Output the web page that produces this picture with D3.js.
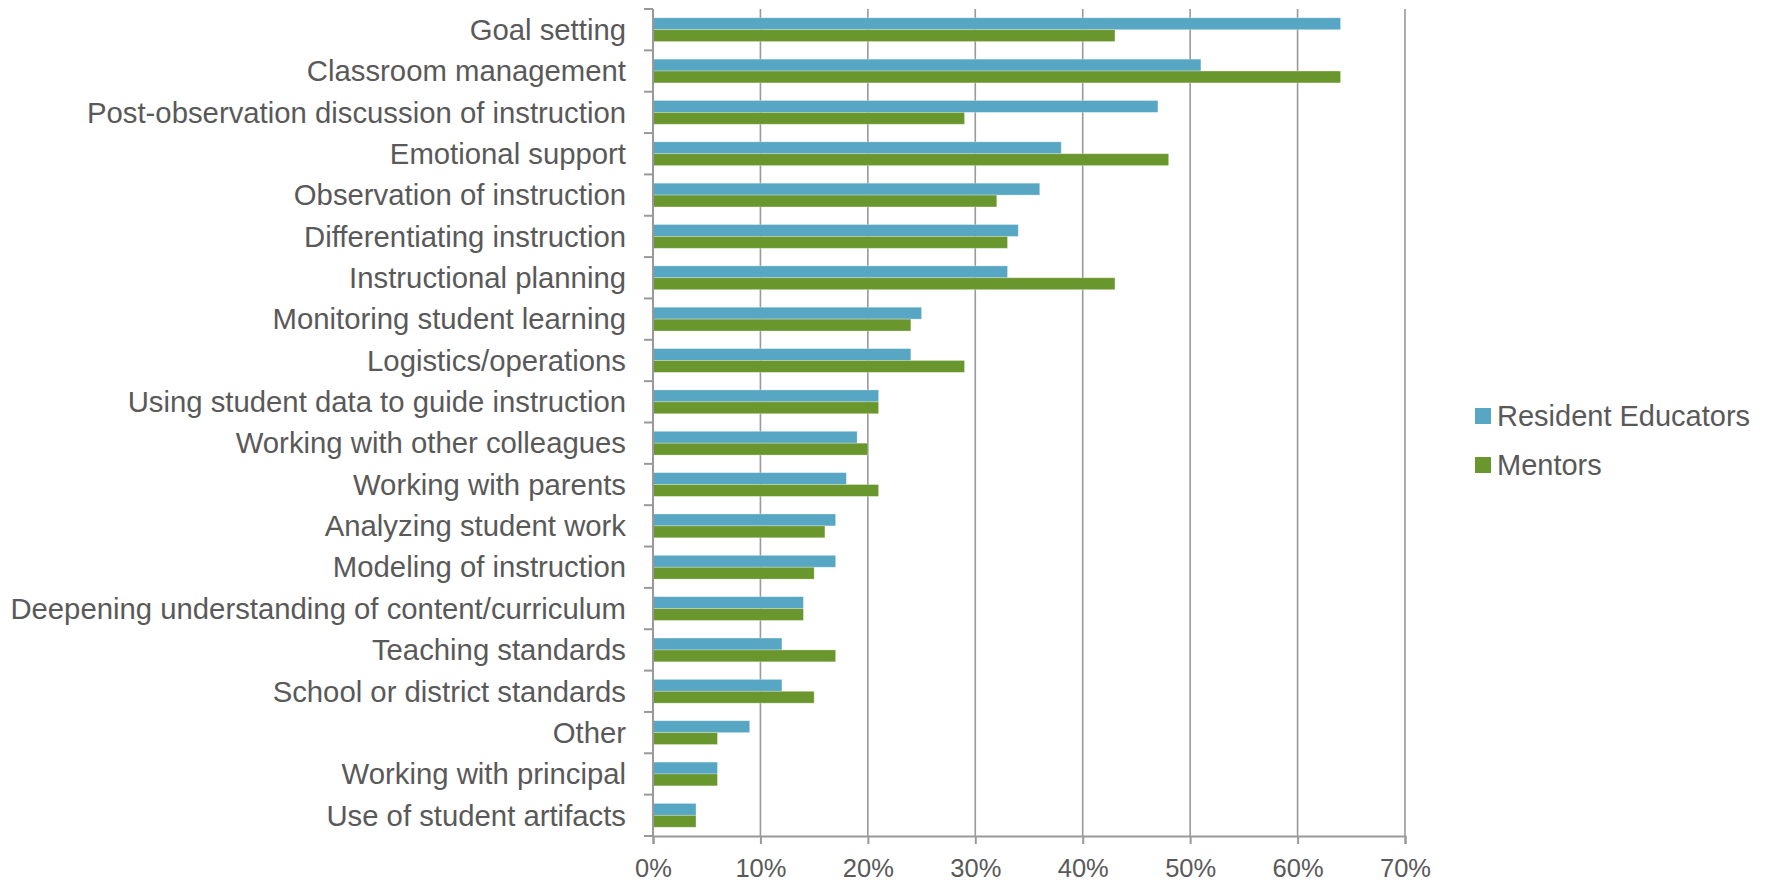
<!DOCTYPE html>
<html>
<head>
<meta charset="utf-8">
<script src="https://cdn.jsdelivr.net/npm/d3@7"></script>
<style>
  html, body { margin: 0; padding: 0; background: #fff; }
  svg { display: block; font-family: "Liberation Sans", Arial, sans-serif; }
</style>
</head>
<body>
<svg id="chart" width="1772" height="882"></svg>
<script>
const categories = [
  "Goal setting",
  "Classroom management",
  "Post-observation discussion of instruction",
  "Emotional support",
  "Observation of instruction",
  "Differentiating instruction",
  "Instructional planning",
  "Monitoring student learning",
  "Logistics/operations",
  "Using student data to guide instruction",
  "Working with other colleagues",
  "Working with parents",
  "Analyzing student work",
  "Modeling of instruction",
  "Deepening understanding of content/curriculum",
  "Teaching standards",
  "School or district standards",
  "Other",
  "Working with principal",
  "Use of student artifacts"
];
const seriesNames = ["Resident Educators", "Mentors"];
const residentEducators = [64, 51, 47, 38, 36, 34, 33, 25, 24, 21, 19, 18, 17, 17, 14, 12, 12, 9, 6, 4];
const mentors = [43, 64, 29, 48, 32, 33, 43, 24, 29, 21, 20, 21, 16, 15, 14, 17, 15, 6, 6, 4];
const xTicks = [0, 10, 20, 30, 40, 50, 60, 70];
const colors = ["#57A6C3", "#6A962E"];

(function () {
const seriesValues = [residentEducators, mentors];
const svg = d3.select("#chart");

const pLeft = 653, pRight = 1405, pTop = 9, pBottom = 836;
const x = d3.scaleLinear().domain([0, 70]).range([pLeft, pRight]);
const y = d3.scaleBand().domain(categories).range([pTop, pBottom]).padding(0);
const ySub = d3.scaleBand().domain(seriesNames).range([0, y.bandwidth()])
  .paddingInner(0).paddingOuter(0.74);

const gridColor = "#999999";

// vertical gridlines
svg.append("g").selectAll("line")
  .data(xTicks.filter(d => d > 0))
  .join("line")
  .attr("x1", d => x(d)).attr("x2", d => x(d))
  .attr("y1", pTop).attr("y2", pBottom)
  .attr("stroke", gridColor).attr("stroke-width", 1.6);

// bars
const rows = categories.map((c, i) => ({ c, vals: seriesNames.map((s, j) => ({ s, v: seriesValues[j][i], j })) }));
const g = svg.append("g").selectAll("g").data(rows).join("g")
  .attr("transform", d => `translate(0,${y(d.c)})`);
g.selectAll("rect").data(d => d.vals).join("rect")
  .attr("x", x(0))
  .attr("y", d => ySub(d.s))
  .attr("width", d => x(d.v) - x(0))
  .attr("height", ySub.bandwidth())
  .attr("fill", d => colors[d.j])
  .attr("stroke", "rgba(255,255,255,0.35)")
  .attr("stroke-width", 0.8);

// y axis
const yAxis = svg.append("g").attr("transform", `translate(${pLeft},0)`);
yAxis.append("line").attr("x1", 0).attr("x2", 0).attr("y1", pTop).attr("y2", pBottom)
  .attr("stroke", gridColor).attr("stroke-width", 2);
const yEdges = categories.map(c => y(c)).concat([pBottom]);
yAxis.selectAll("line.tick").data(yEdges).join("line").attr("class", "tick")
  .attr("x1", -9).attr("x2", 0).attr("y1", d => d).attr("y2", d => d)
  .attr("stroke", gridColor).attr("stroke-width", 2);
svg.append("g").selectAll("text").data(categories).join("text")
  .attr("x", 626)
  .attr("y", d => y(d) + y.bandwidth() / 2)
  .attr("dy", "0.35em")
  .attr("text-anchor", "end")
  .attr("font-size", 29.3)
  .attr("fill", "#595959")
  .text(d => d);

// x axis
const xAxisG = svg.append("g").attr("transform", `translate(0,${pBottom})`)
  .call(d3.axisBottom(x).tickValues(xTicks).tickFormat(d => d + "%").tickSize(8).tickPadding(15));
xAxisG.select(".domain").attr("stroke", gridColor).attr("stroke-width", 2);
xAxisG.selectAll(".tick line").attr("stroke", gridColor).attr("stroke-width", 2);
xAxisG.selectAll(".tick text")
  .attr("font-size", 25.5)
  .attr("font-family", "'Liberation Sans', Arial, sans-serif")
  .attr("fill", "#595959");

// legend
const legend = svg.append("g").selectAll("g").data(seriesNames).join("g")
  .attr("transform", (d, i) => `translate(1475,${416 + i * 49})`);
legend.append("rect").attr("x", 0).attr("y", -8).attr("width", 16).attr("height", 16)
  .attr("fill", (d, i) => colors[i]);
legend.append("text").attr("x", 22).attr("y", 0).attr("dy", "0.35em")
  .attr("font-size", 29).attr("fill", "#595959").text(d => d);
})();
</script>
</body>
</html>
